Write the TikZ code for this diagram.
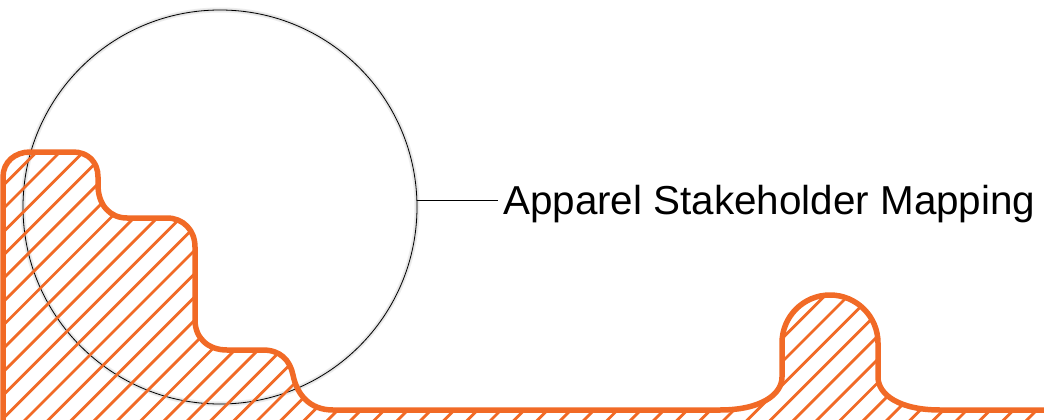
\documentclass[tikz,border=0pt]{standalone}
\usepackage{fontspec}
\setmainfont{Liberation Sans}
\definecolor{orng}{RGB}{241,106,38}
\newcommand\blobpath{(3,430) -- (3,177) .. controls (3,162) and (15,152) .. (30,152) -- (73,152) .. controls (88,152) and (98,162) .. (98,177) -- (98,185) .. controls (98,205) and (110,218) .. (127,218) -- (167,218) .. controls (183,218) and (195,230) .. (195,247) -- (195,320) .. controls (195,338) and (208,350) .. (227,350) -- (263,350) .. controls (280,350) and (290,360) .. (293,375) .. controls (297,395) and (310,410) .. (333,410) -- (720,410) .. controls (760,410) and (782,395) .. (782,377) -- (782,343) arc (180:360:48) -- (878,377) .. controls (878,395) and (900,410) .. (940,410) -- (1060,410) -- (1060,430) -- cycle}
\tikzset{
  hatchline/.style={draw=orng, line width=2.8pt},
  outline/.style={draw=orng, line width=5.5pt, line join=round},
  bigcircle/.style={circle, draw=black, line width=0.8pt, minimum size=394pt, inner sep=0pt},
  label/.style={inner sep=0pt, anchor=base west, font=\fontsize{40.4}{48}\selectfont},
}
\begin{document}
\begin{tikzpicture}[x=1pt,y=-1pt]
\useasboundingbox (0,0) rectangle (1044,420);
\fill[white] (0,0) rectangle (1044,420);
% soft shadow
\draw[black!7, line width=5pt] (220,207) circle (197);
\draw[black!12, line width=2.5pt] (220,207) circle (197);
\node[bigcircle] (c) at (220,207) {};
\node[label] (t) at (503,214) {Apparel Stakeholder Mapping};
\draw[line width=0.8pt] (c.2) -- ([xshift=-5pt]c.2 -| t.west);
\begin{scope}
  \clip \blobpath;
  \foreach \k in {-12,...,58} \draw[hatchline] ({208.7+23.3*\k},-20) -- ++(-560,560);
\end{scope}
\draw[outline] \blobpath;
\end{tikzpicture}
\end{document}
